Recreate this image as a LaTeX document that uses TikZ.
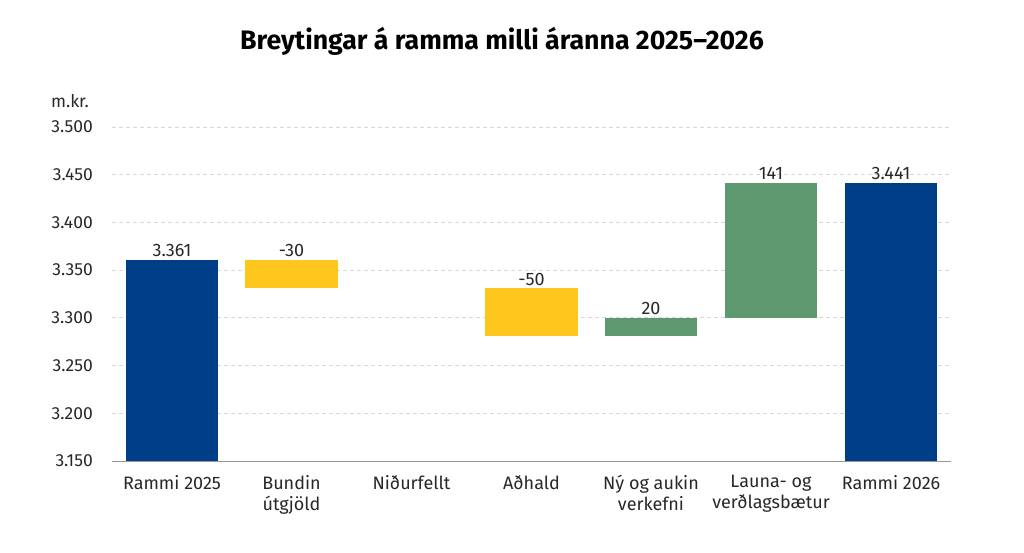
\documentclass[tikz,border=0pt]{standalone}
\usepackage{fontspec}
\setmainfont{Fira Sans}
\definecolor{rblue}{RGB}{0,62,135}
\definecolor{ryellow}{RGB}{254,197,28}
\definecolor{rgreen}{RGB}{94,152,110}
\definecolor{rgrid}{RGB}{215,215,215}
\definecolor{raxis}{RGB}{150,150,150}
\definecolor{rtext}{RGB}{40,40,40}
\begin{document}
\begin{tikzpicture}[x=1pt,y=-1pt,
  ticklab/.style={anchor=east,font=\fontsize{17.5}{17.5}\selectfont,text=rtext,inner sep=0pt},
  catlab/.style={anchor=north,align=center,font=\fontsize{18}{21}\selectfont,text=rtext,inner sep=0pt},
  vallab/.style={anchor=south,font=\fontsize{18}{18}\selectfont,text=rtext,inner sep=0pt},
  gridline/.style={draw=rgrid,line width=0.8pt,dash pattern=on 4pt off 3pt}]
\useasboundingbox (0,0) rectangle (1024,552);
\fill[white] (0,0) rectangle (1024,552);
\node (title) at (502,41) {\fontsize{26.7}{26.7}\selectfont\bfseries Breytingar á ramma milli áranna 2025–2026};
\node[ticklab] (unit) at (89,101) {m.kr.};
% gridlines and ticks
\foreach \v/\lab [count=\i] in {0/3.500,1/3.450,2/3.400,3/3.350,4/3.300,5/3.250,6/3.200} {
  \pgfmathsetmacro{\yy}{127+\v*47.714}
  \coordinate (gl\i) at (112,\yy);
  \coordinate (gr\i) at (950,\yy);
  \draw[gridline] (gl\i) -- (gr\i);
  \node[ticklab] (t\i) at (93,\yy) {\lab};
}
\coordinate (al) at (112,461);
\coordinate (ar) at (951,461);
\node[ticklab] (t8) at (93,461) {3.150};
% bars (y = 461 - (v-3150)*0.954286)
\fill[rblue] (126,259.65) rectangle (218,461);
\fill[ryellow] (245,259.65) rectangle (338,288.3);
\fill[ryellow] (485,288.3) rectangle (578,336.0);
\fill[rgreen] (605,317.5) rectangle (697,336.0);
\fill[rgreen] (725,183.3) rectangle (817,317.5);
\fill[rblue] (845,183.3) rectangle (937,461);
\draw[raxis,line width=1pt] (al) -- (ar);
% value labels
\node[vallab] (v1) at (172,257) {3.361};
\node[vallab] (v2) at (291.5,257) {-30};
\node[vallab] (v4) at (531.5,286) {-50};
\node[vallab] (v5) at (651,315) {20};
\node[vallab] (v6) at (771,180) {141};
\node[vallab] (v7) at (891,180) {3.441};
% category labels
\node[catlab] (c1) at (172,475) {Rammi 2025};
\node[catlab] (c2) at (291.5,475) {Bundin\\útgjöld};
\node[catlab] (c3) at (411.5,475) {Niðurfellt};
\node[catlab] (c4) at (531.5,475) {Aðhald};
\node[catlab] (c5) at (651,475) {Ný og aukin\\verkefni};
\node[catlab] (c6) at (771,475) {Launa- og\\verðlagsbætur};
\node[catlab] (c7) at (891,475) {Rammi 2026};
\end{tikzpicture}
\end{document}
